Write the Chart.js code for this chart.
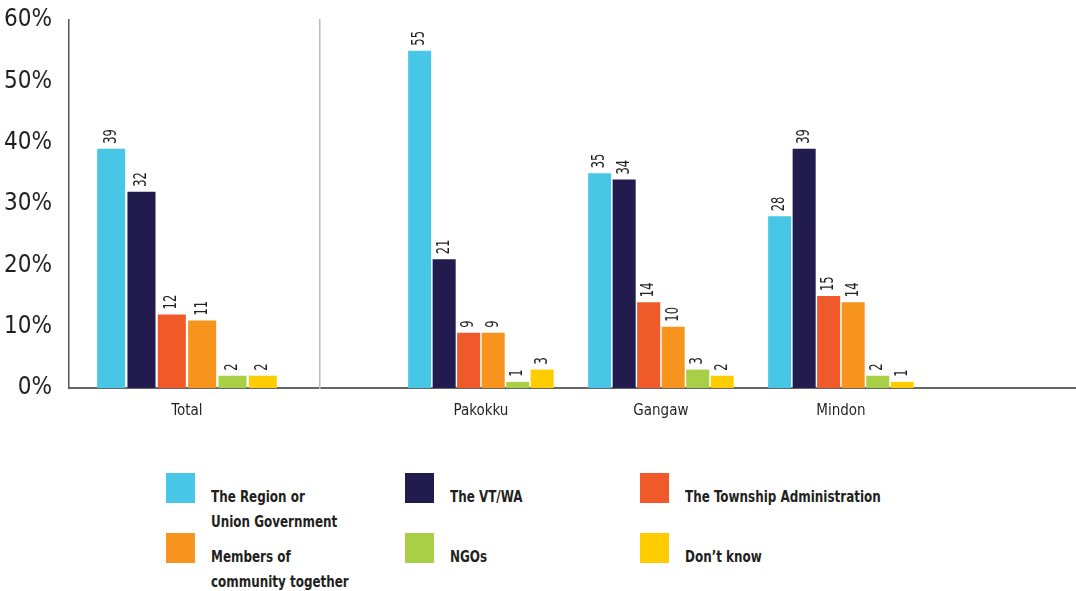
<!DOCTYPE html>
<html>
<head>
<meta charset="utf-8">
<title>Who should solve the problem</title>
<script src="https://cdn.jsdelivr.net/npm/chart.js"></script>
<style>
  html, body { margin: 0; padding: 0; background: #fff; }
  #wrap { position: relative; width: 1076px; height: 591px; overflow: hidden; }
  #left { position: absolute; left: 0; top: 0; }
  #right { position: absolute; left: 310px; top: 0; }
  #legend {
    position: absolute; left: 166px; top: 473px;
    display: grid; grid-template-columns: 239px 235px 300px; grid-auto-rows: 60px;
    font-family: 'DejaVu Sans Condensed', 'DejaVu Sans', sans-serif;
    font-weight: bold; font-size: 16px; color: #231f20;
  }
  .item { display: flex; align-items: flex-start; }
  .swatch { width: 29px; height: 30px; flex: none; }
  .name { margin-left: 16px; padding-top: 11px; line-height: 25px; white-space: pre; transform: scaleX(0.83); transform-origin: 0 0; }
</style>
</head>
<body>
<div id="wrap">
  <canvas id="left" width="320" height="434"></canvas>
  <canvas id="right" width="766" height="434"></canvas>
  <div id="legend"></div>
</div>
<script>
  const totalLabel = 'Total';
  const towns = ['Pakokku', 'Gangaw', 'Mindon'];
  const seriesNames = [
    'The Region or\nUnion Government',
    'The VT/WA',
    'The Township Administration',
    'Members of\ncommunity together',
    'NGOs',
    'Don\u2019t know'
  ];
  // percent per answer, in the order of seriesNames
  const totalValues = [39, 32, 12, 11, 2, 2];
  // per answer, in the order of towns
  const regionUnionGov = [55, 35, 28];
  const vtWa = [21, 34, 39];
  const townshipAdmin = [9, 14, 15];
  const communityMembers = [9, 10, 14];
  const ngos = [1, 3, 2];
  const dontKnow = [3, 2, 1];
  const townValues = [regionUnionGov, vtWa, townshipAdmin, communityMembers, ngos, dontKnow];
  const yMax = 60;
  const yStep = 10;

  const seriesColors = ['#48c6e5', '#221c4e', '#f05a2a', '#f7941e', '#a8cf45', '#ffcc00'];
  const FONT = "'DejaVu Sans Condensed', 'DejaVu Sans', sans-serif";
  const INK = '#231f20';

  // rotated value above each bar, squeezed a little to look condensed
  const valueLabels = {
    id: 'valueLabels',
    afterDatasetsDraw(chart) {
      const ctx = chart.ctx;
      ctx.save();
      ctx.font = '17px ' + FONT;
      ctx.fillStyle = INK;
      ctx.textAlign = 'left';
      ctx.textBaseline = 'middle';
      chart.data.datasets.forEach((ds, i) => {
        chart.getDatasetMeta(i).data.forEach((bar, j) => {
          ctx.save();
          ctx.translate(bar.x, bar.y - 5);
          ctx.rotate(-Math.PI / 2);
          ctx.scale(0.75, 1);
          ctx.fillText(String(ds.data[j].y), 0, 0);
          ctx.restore();
        });
      });
      ctx.restore();
    }
  };

  const xAxisBase = {
    type: 'linear',
    offset: false,
    grid: { display: false, drawTicks: false },
    border: { color: '#666', width: 2 },
    ticks: { autoSkip: false, maxRotation: 0, padding: 14, color: INK, font: { family: FONT, size: 15 } }
  };

  // left panel: the total
  new Chart(document.getElementById('left'), {
    type: 'bar',
    data: {
      datasets: seriesNames.map((name, i) => ({
        label: name.replace('\n', ' '),
        data: [{ x: 1, y: totalValues[i] }],
        backgroundColor: seriesColors[i],
        categoryPercentage: 0.725,
        barPercentage: 0.925
      }))
    },
    options: {
      responsive: false,
      animation: false,
      layout: { padding: { top: 20 } },
      plugins: { legend: { display: false }, tooltip: { enabled: false } },
      scales: {
        x: {
          ...xAxisBase,
          min: 0.53,
          max: 1.53,
          afterBuildTicks: (axis) => { axis.ticks = [{ value: 1 }]; },
          ticks: { ...xAxisBase.ticks, callback: () => totalLabel }
        },
        y: {
          min: 0,
          max: yMax,
          afterFit: (axis) => { axis.width = 69; axis.paddingTop = 0; axis.paddingBottom = 0; },
          grid: { display: false, drawTicks: false },
          border: { color: '#555', width: 1.5 },
          ticks: {
            stepSize: yStep,
            padding: 17,
            color: INK,
            font: { family: FONT, size: 24 },
            callback: (v) => v + '%'
          }
        }
      }
    },
    plugins: [valueLabels]
  });

  // right panel: the three townships
  new Chart(document.getElementById('right'), {
    type: 'bar',
    data: {
      datasets: seriesNames.map((name, i) => ({
        label: name.replace('\n', ' '),
        data: towns.map((t, j) => ({ x: j + 1, y: townValues[i][j] })),
        backgroundColor: seriesColors[i],
        categoryPercentage: 0.817,
        barPercentage: 0.94
      }))
    },
    options: {
      responsive: false,
      animation: false,
      layout: { padding: { top: 20 } },
      plugins: { legend: { display: false }, tooltip: { enabled: false } },
      scales: {
        x: {
          ...xAxisBase,
          min: 0.106,
          max: 4.306,
          afterBuildTicks: (axis) => { axis.ticks = towns.map((t, j) => ({ value: j + 1 })); },
          ticks: { ...xAxisBase.ticks, callback: (v) => towns[v - 1] || '' }
        },
        y: {
          min: 0,
          max: yMax,
          afterFit: (axis) => { axis.width = 10; },
          grid: { display: false, drawTicks: false },
          border: { color: '#bbb', width: 1.5, dash: [5, 2] },
          ticks: { display: false, stepSize: yStep }
        }
      }
    },
    plugins: [valueLabels]
  });

  // legend in three columns
  const legend = document.getElementById('legend');
  seriesNames.forEach((name, i) => {
    const item = document.createElement('div');
    item.className = 'item';
    const sw = document.createElement('div');
    sw.className = 'swatch';
    sw.style.background = seriesColors[i];
    const txt = document.createElement('div');
    txt.className = 'name';
    txt.textContent = name;
    item.appendChild(sw);
    item.appendChild(txt);
    legend.appendChild(item);
  });
</script>
</body>
</html>
